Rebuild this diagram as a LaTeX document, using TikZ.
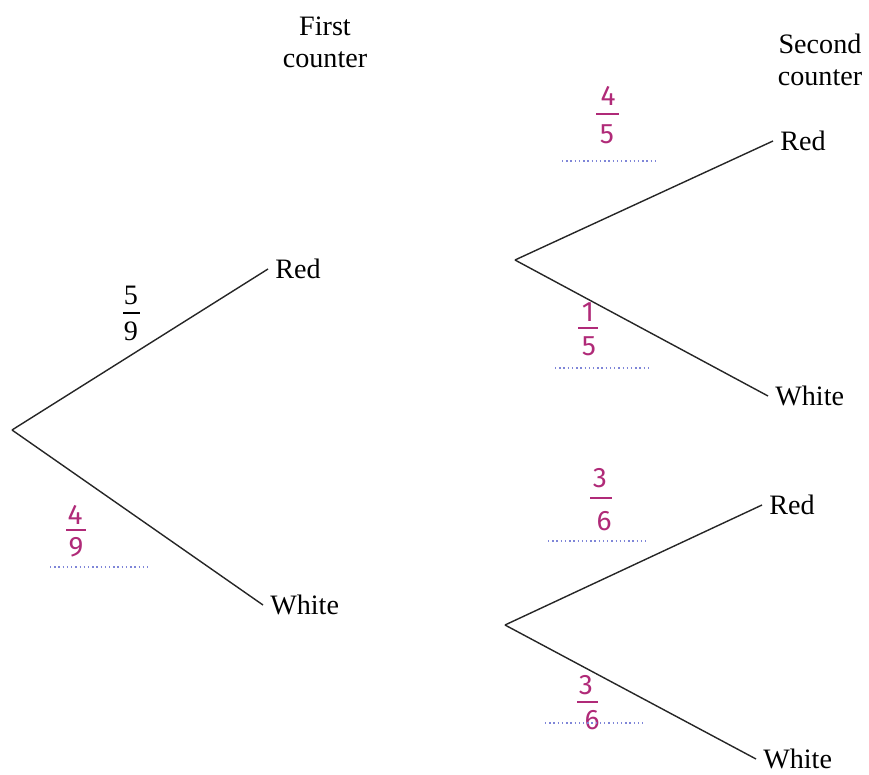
\documentclass[tikz,border=0pt]{standalone}
\usepackage{fontspec}
\setmainfont{Liberation Serif}
\newfontfamily\handfont{Fira Sans}
\definecolor{ink}{HTML}{B02A78}
\definecolor{dotblue}{HTML}{7F86D8}
\begin{document}
\begin{tikzpicture}[x=0.025cm,y=-0.025cm,
  lbl/.style={font=\rmfamily\fontsize{20}{22}\selectfont, inner ysep=1pt, inner xsep=5pt, anchor=west},
  head/.style={font=\rmfamily\fontsize{20}{22.6}\selectfont, align=center, inner sep=0pt},
  digit/.style={font=\rmfamily\fontsize{20}{22}\selectfont, inner sep=0pt},
  branch/.style={line width=1pt, black!85},
  hand/.style={text=ink, font=\handfont\fontsize{20}{20}\selectfont, inner sep=0pt},
  handbar/.style={ink, line width=1.6pt},
  printbar/.style={black, line width=0.8pt},
  ans/.style={dotblue, line width=1pt, dotted}]
\useasboundingbox (0,0) rectangle (869,775);
% headings
\node[head] (h1) at (325,42) {First\\counter};
\node[head] (h2) at (820,60) {Second\\counter};
% first stage
\coordinate (r0) at (12,430);
\node[lbl] (red1) at (268,269) {Red};
\node[lbl] (white1) at (263,605) {White};
\draw[branch] (r0) -- (red1.west);
\draw[branch] (r0) -- (white1.west);
% upper second stage
\coordinate (r1) at (515,260);
\node[lbl] (red2) at (773,141) {Red};
\node[lbl] (white2) at (768,396) {White};
\draw[branch] (r1) -- (red2.west);
\draw[branch] (r1) -- (white2.west);
% lower second stage
\coordinate (r2) at (505,625);
\node[lbl] (red3) at (762,505) {Red};
\node[lbl] (white3) at (756,759) {White};
\draw[branch] (r2) -- (red3.west);
\draw[branch] (r2) -- (white3.west);
% printed 5/9
\node[digit] (n59) at (131,295) {5};
\node[digit] (d59) at (131,331) {9};
\draw[printbar] (123,313) -- (140,313);
% handwritten 4/9
\node[hand] (n49) at (75,515) {4};
\node[hand] (d49) at (76,547) {9};
\draw[handbar] (66,530) -- (86,530);
\coordinate (d1a) at (50,567); \coordinate (d1b) at (150,567);
\draw[ans] (d1a) -- (d1b);
% handwritten 4/5
\node[hand] (n45) at (608,96) {4};
\node[hand] (d45) at (607,134) {5};
\draw[handbar] (596,114) -- (619,114);
\coordinate (d2a) at (562,161); \coordinate (d2b) at (658,161);
\draw[ans] (d2a) -- (d2b);
% handwritten 1/5
\node[hand] (n15) at (588,312) {1};
\node[hand] (d15) at (589,346) {5};
\draw[handbar] (578,328) -- (598,328);
\coordinate (d3a) at (555,368); \coordinate (d3b) at (652,368);
\draw[ans] (d3a) -- (d3b);
% handwritten 3/6 (upper)
\node[hand] (n36a) at (600,478) {3};
\node[hand] (d36a) at (604,521) {6};
\draw[handbar] (590,498) -- (612,498);
\coordinate (d4a) at (548,541); \coordinate (d4b) at (646,541);
\draw[ans] (d4a) -- (d4b);
% handwritten 3/6 (lower)
\node[hand] (n36b) at (586,685) {3};
\node[hand] (d36b) at (592,720) {6};
\draw[handbar] (577,702) -- (598,702);
\coordinate (d5a) at (545,723); \coordinate (d5b) at (643,723);
\draw[ans] (d5a) -- (d5b);
\end{tikzpicture}
\end{document}
